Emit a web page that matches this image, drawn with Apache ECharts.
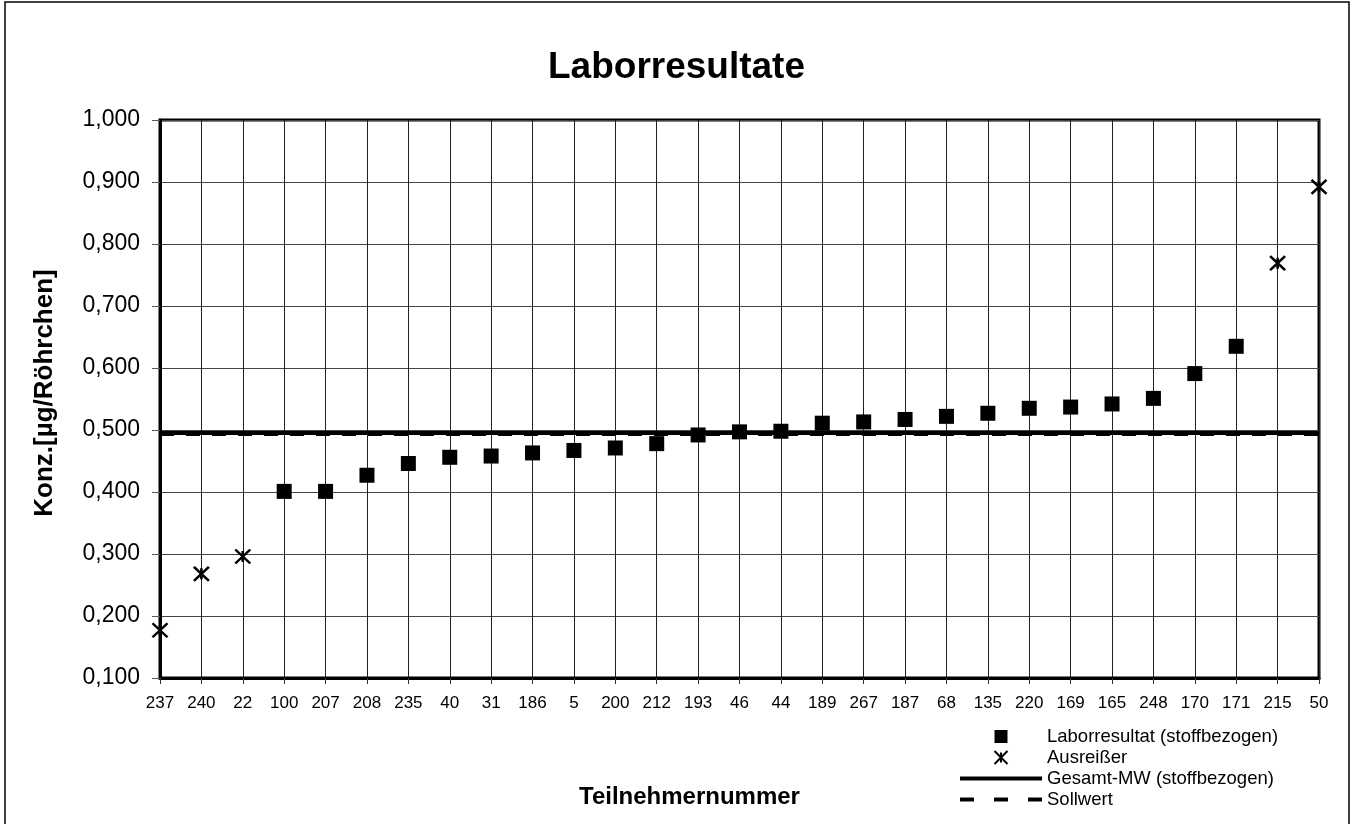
<!DOCTYPE html>
<html>
<head>
<meta charset="utf-8">
<script src="https://cdn.jsdelivr.net/npm/echarts@6/dist/echarts.min.js"></script>
<style>html,body{margin:0;padding:0;background:#fff;}#chart{width:1355px;height:824px;}</style>
</head>
<body>
<div id="chart"></div>
<script>
// Categories (participant numbers, sorted by result)
const participants = ['237','240','22','100','207','208','235','40','31','186','5','200','212','193','46','44','189','267','187','68','135','220','169','165','248','170','171','215','50'];
// Lab results (regular)
const labParticipants = ['100','207','208','235','40','31','186','5','200','212','193','46','44','189','267','187','68','135','220','169','165','248','170','171'];
const labValues = [0.401,0.401,0.427,0.446,0.456,0.458,0.463,0.467,0.471,0.478,0.492,0.497,0.498,0.511,0.513,0.517,0.522,0.527,0.535,0.537,0.542,0.551,0.591,0.635];
// Outliers
const outlierParticipants = ['237','240','22','215','50'];
const outlierValues = [0.177,0.268,0.296,0.769,0.892];
// Reference lines
const meanValue = 0.496;   // Gesamt-MW (stoffbezogen)
const targetValue = 0.493; // Sollwert
// Y ticks
const yMin = 0.1, yMax = 1.0, yStep = 0.1;

const FONT = 'Liberation Sans, Arial, sans-serif';
const starPath = 'path://M0,0L14,14M14,0L0,14M7,1.5L7,12.5';
const squareIcon = 'path://M0,0L10,0L10,10L0,10Z';
const solidIcon = 'path://M0,0L82,0L82,4L0,4Z';
const dashIcon = 'path://M0,0L14,0L14,4L0,4Z M34,0L48,0L48,4L34,4Z M68,0L82,0L82,4L68,4Z';

const chart = echarts.init(document.getElementById('chart'), null, {renderer: 'canvas'});
chart.setOption({
  animation: false,
  backgroundColor: '#fff',
  title: [
    {text: 'Laborresultate', left: 543, top: 44,
     textStyle: {fontFamily: FONT, fontSize: 37, fontWeight: 'bold', color: '#000'}},
    {text: 'Teilnehmernummer', left: 574, top: 780,
     textStyle: {fontFamily: FONT, fontSize: 24, fontWeight: 'bold', color: '#000'}}
  ],
  graphic: [{
    type: 'rect', silent: true, z: 100,
    shape: {x: 5, y: 2, width: 1344, height: 830},
    style: {fill: 'none', stroke: '#000', lineWidth: 1.5}
  }],
  grid: {left: 160, right: 36, top: 120, bottom: 146, show: true,
         borderColor: '#000', borderWidth: 3, backgroundColor: '#fff'},
  legend: {
    orient: 'vertical', left: 960, top: 727, padding: 0, itemWidth: 82, itemHeight: 13, itemGap: 2,
    symbolKeepAspect: true,
    textStyle: {fontFamily: FONT, fontSize: 18.5, color: '#000'},
    data: [
      {name: 'Laborresultat (stoffbezogen)', icon: squareIcon},
      {name: 'Ausreißer', icon: starPath},
      {name: 'Gesamt-MW (stoffbezogen)', icon: solidIcon},
      {name: 'Sollwert', icon: dashIcon}
    ]
  },
  xAxis: {
    type: 'category', data: participants, boundaryGap: false,
    axisLine: {lineStyle: {color: '#000', width: 3}},
    axisTick: {show: true, inside: false, length: 6, lineStyle: {color: '#333'}},
    axisLabel: {interval: 0, margin: 17, fontFamily: FONT, fontSize: 17, color: '#000'},
    splitLine: {show: true, interval: 0, lineStyle: {color: '#222', width: 1}}
  },
  yAxis: {
    type: 'value', min: yMin, max: yMax, interval: yStep,
    name: 'Konz.[µg/Röhrchen]', nameLocation: 'middle', nameGap: 102, nameRotate: 90,
    nameTextStyle: {fontFamily: FONT, fontSize: 26, fontWeight: 'bold', color: '#000', padding: [0, 0, 0, 12]},
    axisLine: {show: true, lineStyle: {color: '#000', width: 3}},
    axisTick: {show: true, inside: false, length: 8, lineStyle: {color: '#555'}},
    axisLabel: {margin: 20, fontFamily: FONT, fontSize: 23, color: '#000',
      formatter: v => v.toFixed(3).replace('.', ',')},
    splitLine: {show: true, lineStyle: {color: '#444', width: 1}}
  },
  series: [
    {
      name: 'Sollwert', type: 'line', data: [], symbol: 'none', z: 2,
      lineStyle: {color: '#000', width: 3, type: [14, 12]}, itemStyle: {color: '#000'},
      markLine: {silent: true, symbol: 'none', precision: 3, label: {show: false},
        lineStyle: {color: '#000', width: 3, type: [14, 12]},
        data: [{yAxis: targetValue}]}
    },
    {
      name: 'Gesamt-MW (stoffbezogen)', type: 'line', data: [], symbol: 'none', z: 3,
      lineStyle: {color: '#000', width: 4, type: 'solid'}, itemStyle: {color: '#000'},
      markLine: {silent: true, symbol: 'none', precision: 3, label: {show: false},
        lineStyle: {color: '#000', width: 4, type: 'solid'},
        data: [{yAxis: meanValue}]}
    },
    {
      name: 'Laborresultat (stoffbezogen)', type: 'scatter', symbol: 'rect', symbolSize: 15, z: 5,
      itemStyle: {color: '#000', opacity: 1},
      data: labParticipants.map((p, i) => [participants.indexOf(p), labValues[i]])
    },
    {
      name: 'Ausreißer', type: 'scatter', symbol: starPath, symbolSize: [15, 14], z: 5,
      itemStyle: {color: 'none', borderColor: '#000', borderWidth: 2.5, opacity: 1},
      data: outlierParticipants.map((p, i) => [participants.indexOf(p), outlierValues[i]])
    }
  ]
});
</script>
</body>
</html>
